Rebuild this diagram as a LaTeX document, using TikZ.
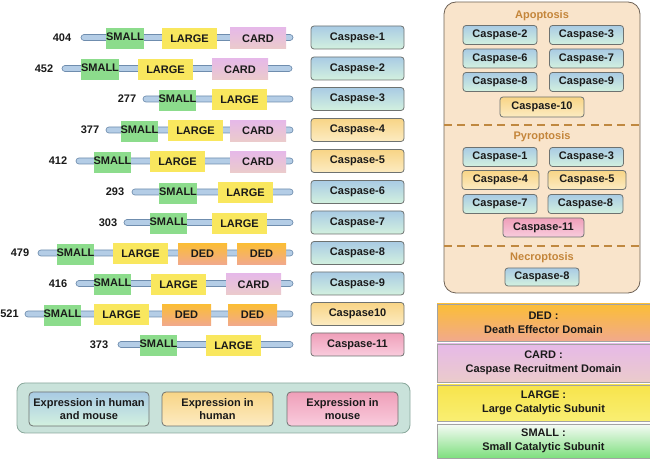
\documentclass[tikz,border=0pt]{standalone}
\usepackage{fontspec}
\setmainfont{Liberation Sans}
\definecolor{textc}{HTML}{1A1A1A}
\definecolor{barfill}{HTML}{B4CDE6}
\definecolor{barline}{HTML}{6F8DAE}
\definecolor{smallc}{HTML}{8CDC8C}
\definecolor{largec}{HTML}{F9E75E}
\definecolor{cardtop}{HTML}{E6B9E8}
\definecolor{cardbot}{HTML}{EBCBCB}
\definecolor{dedtop}{HTML}{FBBE36}
\definecolor{dedbot}{HTML}{F1A98C}
\definecolor{namebord}{HTML}{6E7270}
\definecolor{hmtop}{HTML}{A9CBE4}
\definecolor{hmbot}{HTML}{D3F1DF}
\definecolor{hutop}{HTML}{F8D586}
\definecolor{hubot}{HTML}{FCEBC2}
\definecolor{motop}{HTML}{EF9FB9}
\definecolor{mobot}{HTML}{F9CCDD}
\definecolor{panelc}{HTML}{F9E4CB}
\definecolor{panelb}{HTML}{6E6256}
\definecolor{hdrc}{HTML}{C4853A}
\definecolor{sepc}{HTML}{C08840}
\definecolor{legb}{HTML}{A3A3A3}
\definecolor{smalltop}{HTML}{F6FBF6}
\definecolor{smallbot}{HTML}{7EDF7E}
\definecolor{largetop}{HTML}{F7E44C}
\definecolor{largebot}{HTML}{F9EF72}
\definecolor{expfill}{HTML}{C9E2DA}
\definecolor{expbord}{HTML}{8AA89C}
\tikzset{
  txt/.style={font=\fontsize{8.25}{9.9}\selectfont\bfseries, text=textc},
  bar/.style={draw=barline, fill=barfill, rounded corners=2.25pt, minimum height=4.5pt, inner sep=0pt, line width=0.5pt},
  dom/.style={txt, inner sep=0pt, minimum height=15.75pt},
  smalld/.style={dom, fill=smallc, text height=6pt, text depth=3pt},
  larged/.style={dom, fill=largec},
  cardd/.style={dom, top color=cardtop, bottom color=cardbot},
  dedd/.style={dom, top color=dedtop, bottom color=dedbot},
  namebox/.style={txt, draw=namebord, rounded corners=2.25pt, minimum width=69.75pt, minimum height=17.25pt, inner sep=0pt, line width=0.6pt},
  hm/.style={namebox, top color=hmtop, bottom color=hmbot},
  hu/.style={namebox, top color=hutop, bottom color=hubot},
  mo/.style={namebox, top color=motop, bottom color=mobot},
  pbox/.style={minimum height=14.25pt, minimum width=55.5pt},
  num/.style={txt},
  hdr/.style={txt, text=hdrc},
  sep/.style={draw=sepc, line width=1.3pt, dash pattern=on 6pt off 4pt},
  legbox/.style={draw=legb, line width=0.5pt, minimum width=159.75pt, inner sep=0pt, align=center,
     font=\fontsize{8.25}{10.5}\selectfont\bfseries, text=textc},
  expbox/.style={namebox, align=center, font=\fontsize{8.25}{9.75}\selectfont\bfseries, minimum height=25.5pt, rounded corners=3pt},
}
\newcommand\dmn[6]{\node[#1, minimum width={(#4-#3)*0.75pt}] (#2) at ({(#3+#4)/2},#5) {#6};}
\newcommand\cbar[4]{\node[bar, minimum width={(#3-#2)*0.75pt}] (#1) at ({(#2+#3)/2},#4) {};}
\begin{document}
\begin{tikzpicture}[x=0.75pt,y=-0.75pt]
\useasboundingbox (0,0) rectangle (650,459);
% ---------- rows ----------
% row 1
\node[num] (n1) at (62,37.5) {404};
\cbar{b1}{81}{293}{37.5}
\dmn{smalld}{s1}{107}{143}{39}{SMALL}
\dmn{larged}{l1}{162}{217}{38.5}{LARGE}
\dmn{cardd}{c1}{230}{286}{38.5}{CARD}
\node[hm] (k1) at (357.5,37.5) {Caspase-1};
% row 2
\node[num] (n2) at (44,68.5) {452};
\cbar{b2}{62}{292}{68.5}
\dmn{smalld}{s2}{82}{118}{70}{SMALL}
\dmn{larged}{l2}{138}{193}{69.5}{LARGE}
\dmn{cardd}{c2}{212}{268}{69.5}{CARD}
\node[hm] (k2) at (357.5,68.5) {Caspase-2};
% row 3
\node[num] (n3) at (127,99) {277};
\cbar{b3}{143}{293}{99}
\dmn{smalld}{s3}{159}{196}{100.5}{SMALL}
\dmn{larged}{l3}{212}{267}{100}{LARGE}
\node[hm] (k3) at (357.5,99) {Caspase-3};
% row 4
\node[num] (n4) at (90,130) {377};
\cbar{b4}{106}{293}{130}
\dmn{smalld}{s4}{121}{158}{131.5}{SMALL}
\dmn{larged}{l4}{168}{223}{131}{LARGE}
\dmn{cardd}{c4}{230}{286}{131}{CARD}
\node[hu] (k4) at (357.5,130) {Caspase-4};
% row 5
\node[num] (n5) at (58,161) {412};
\cbar{b5}{76}{293}{161}
\dmn{smalld}{s5}{94}{131}{162.5}{SMALL}
\dmn{larged}{l5}{150}{205}{162}{LARGE}
\dmn{cardd}{c5}{230}{286}{162}{CARD}
\node[hu] (k5) at (357.5,161) {Caspase-5};
% row 6
\node[num] (n6) at (115,192) {293};
\cbar{b6}{132}{293}{192}
\dmn{smalld}{s6}{159}{197}{193.5}{SMALL}
\dmn{larged}{l6}{218}{273}{193}{LARGE}
\node[hm] (k6) at (357.5,192) {Caspase-6};
% row 7
\node[num] (n7) at (108,222.5) {303};
\cbar{b7}{124}{293}{222.5}
\dmn{smalld}{s7}{150}{187}{224}{SMALL}
\dmn{larged}{l7}{212}{267}{223.5}{LARGE}
\node[hm] (k7) at (357.5,222.5) {Caspase-7};
% row 8
\node[num] (n8) at (20,253) {479};
\cbar{b8}{38}{293}{253}
\dmn{smalld}{s8}{57}{94}{254.5}{SMALL}
\dmn{larged}{l8}{113}{168}{254}{LARGE}
\dmn{dedd}{d8a}{178}{227}{254}{DED}
\dmn{dedd}{d8b}{237}{286}{254}{DED}
\node[hm] (k8) at (357.5,253) {Caspase-8};
% row 9
\node[num] (n9) at (58,283.5) {416};
\cbar{b9}{76}{293}{283.5}
\dmn{smalld}{s9}{94}{131}{285}{SMALL}
\dmn{larged}{l9}{151}{206}{284.5}{LARGE}
\dmn{cardd}{c9}{226}{281}{284.5}{CARD}
\node[hm] (k9) at (357.5,283.5) {Caspase-9};
% row 10
\node[num] (n10) at (9.5,314) {521};
\cbar{b10}{25}{293}{314}
\dmn{smalld}{s10}{44}{81}{315.5}{SMALL}
\dmn{larged}{l10}{94}{149}{315}{LARGE}
\dmn{dedd}{d10a}{162}{211}{315}{DED}
\dmn{dedd}{d10b}{228}{277}{315}{DED}
\node[hu] (k10) at (357.5,314) {Caspase10};
% row 11
\node[num] (n11) at (99,344.5) {373};
\cbar{b11}{118}{293}{344.5}
\dmn{smalld}{s11}{140}{177}{346}{SMALL}
\dmn{larged}{l11}{206}{261}{345.5}{LARGE}
\node[mo] (k11) at (357.5,344.5) {Caspase-11};
% ---------- right panel ----------
\node[draw=panelb, fill=panelc, rounded corners=9pt, line width=0.6pt, minimum width=147pt, minimum height=218.25pt, inner sep=0pt] (panel) at (542,147.5) {};
\node[hdr] (apo) at (542,15.5) {Apoptosis};
\node[hm,pbox] (a2) at (500,35) {Caspase-2};
\node[hm,pbox] (a3) at (586.5,35) {Caspase-3};
\node[hm,pbox] (a6) at (500,58.5) {Caspase-6};
\node[hm,pbox] (a7) at (586.5,58.5) {Caspase-7};
\node[hm,pbox] (a8) at (500,82) {Caspase-8};
\node[hm,pbox] (a9) at (586.5,82) {Caspase-9};
\node[hu,pbox,minimum width=63pt,minimum height=15pt] (a10) at (542,107) {Caspase-10};
\coordinate (s1l) at (444,125);
\coordinate (s1r) at (640,125);
\draw[sep] (s1l) -- (s1r);
\node[hdr] (pyr) at (542,137) {Pyroptosis};
\node[hm,pbox] (p1) at (500,157) {Caspase-1};
\node[hm,pbox] (p3) at (586.5,157) {Caspase-3};
\node[hu,pbox,minimum width=57.75pt] (p4) at (500.5,180) {Caspase-4};
\node[hu,pbox,minimum width=58.5pt] (p5) at (587,180) {Caspase-5};
\node[hm,pbox] (p7) at (500,204) {Caspase-7};
\node[hm,pbox,minimum width=56.25pt] (p8) at (585.5,204) {Caspase-8};
\node[mo,pbox,minimum width=60.75pt] (p11) at (543.5,227.5) {Caspase-11};
\coordinate (s2l) at (444,246);
\coordinate (s2r) at (640,246);
\draw[sep] (s2l) -- (s2r);
\node[hdr] (nec) at (542,258) {Necroptosis};
\node[hm,pbox,minimum height=13.5pt] (e8) at (542,277) {Caspase-8};
% ---------- domain legend ----------
\node[legbox, top color=dedtop, bottom color=dedbot, minimum height=27.75pt] (lded) at (543.5,322.5) {DED :\\Death Effector Domain};
\node[legbox, top color=cardtop, bottom color=cardbot, minimum height=28.5pt] (lcard) at (543.5,363) {CARD :\\Caspase Recruitment Domain};
\node[legbox, top color=largetop, bottom color=largebot, minimum height=27pt] (llarge) at (543.5,403) {LARGE :\\Large Catalytic Subunit};
\node[legbox, top color=smalltop, bottom color=smallbot, minimum height=25.5pt] (lsmall) at (543.5,441) {SMALL :\\Small Catalytic Subunit};
% ---------- expression legend ----------
\node[draw=expbord, fill=expfill, rounded corners=6pt, line width=0.6pt, minimum width=294.75pt, minimum height=37.5pt, inner sep=0pt] (expl) at (213.5,408) {};
\node[expbox, top color=hmtop, bottom color=hmbot, minimum width=90pt] (ehm) at (89,409) {Expression in human\\and mouse};
\node[expbox, top color=hutop, bottom color=hubot, minimum width=83.25pt] (ehu) at (217.5,409) {Expression in\\human};
\node[expbox, top color=motop, bottom color=mobot, minimum width=83.25pt] (emo) at (342.5,409) {Expression in\\mouse};
\end{tikzpicture}
\end{document}
